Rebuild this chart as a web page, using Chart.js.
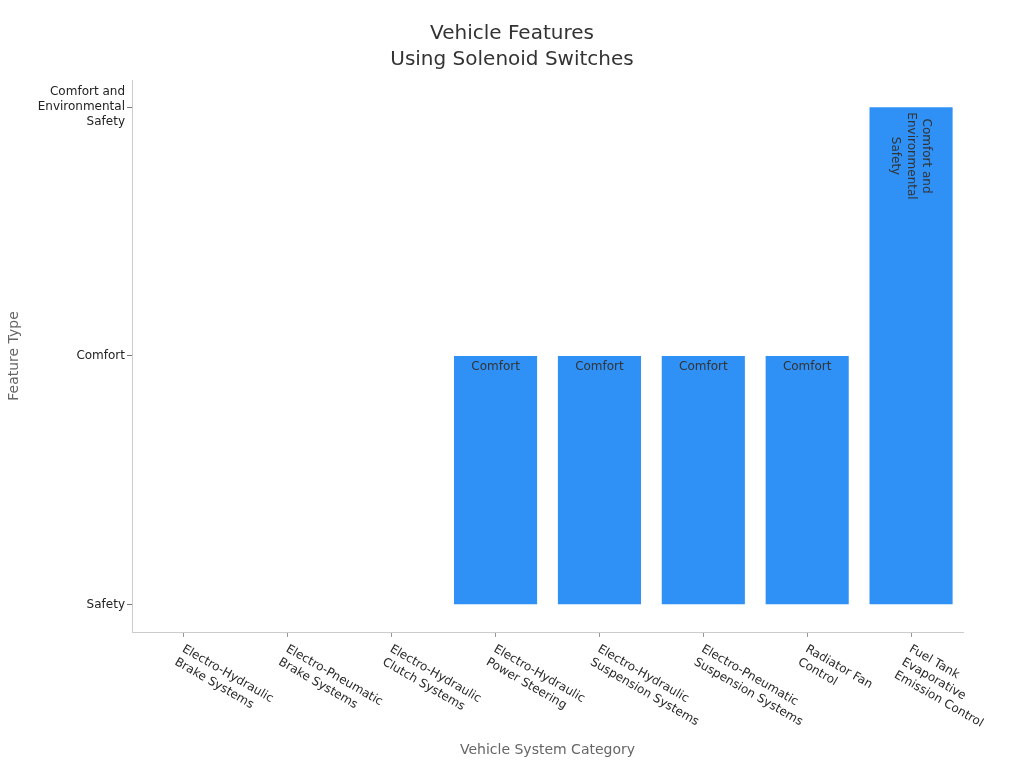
<!DOCTYPE html>
<html>
<head>
<meta charset="utf-8">
<script src="https://cdn.jsdelivr.net/npm/chart.js@4"></script>
<style>
  body { margin: 0; background: #fff; }
  #wrap { width: 1024px; height: 768px; }
</style>
</head>
<body>
<div id="wrap"><canvas id="chart" width="1024" height="768"></canvas></div>
<script>
  // data
  const titleLines = ['Vehicle Features', 'Using Solenoid Switches'];
  const categories = [
    ['Electro-Hydraulic', 'Brake Systems'],
    ['Electro-Pneumatic', 'Brake Systems'],
    ['Electro-Hydraulic', 'Clutch Systems'],
    ['Electro-Hydraulic', 'Power Steering'],
    ['Electro-Hydraulic', 'Suspension Systems'],
    ['Electro-Pneumatic', 'Suspension Systems'],
    ['Radiator Fan', 'Control'],
    ['Fuel Tank', 'Evaporative', 'Emission Control']
  ];
  const featureValues = [0, 0, 0, 1, 1, 1, 1, 2];
  const featureTypes = [
    ['Safety'],
    ['Comfort'],
    ['Comfort and', 'Environmental', 'Safety']
  ];

  Chart.defaults.font.family = "'DejaVu Sans', sans-serif";

  // title, x labels rotated clockwise, bar text - drawn by hand
  const labelPlugin = {
    id: 'labels',
    afterDraw(chart) {
      const ctx = chart.ctx;
      const xs = chart.scales.x;

      ctx.save();
      ctx.font = '20px "DejaVu Sans"';
      ctx.fillStyle = '#333';
      ctx.textAlign = 'center';
      ctx.textBaseline = 'middle';
      titleLines.forEach((t, j) => ctx.fillText(t, chart.width / 2, 34 + j * 26));
      ctx.restore();

      ctx.save();
      ctx.font = '12px "DejaVu Sans"';
      ctx.fillStyle = '#2a2a2a';
      ctx.textAlign = 'left';
      ctx.textBaseline = 'top';
      categories.forEach((lines, i) => {
        const x = xs.getPixelForValue(i);
        ctx.save();
        ctx.translate(x + 2, 643);
        ctx.rotate(Math.PI / 6);
        lines.forEach((t, j) => ctx.fillText(t, 0, j * 15));
        ctx.restore();
      });
      ctx.restore();

      // text inside bars
      const meta = chart.getDatasetMeta(0);
      ctx.save();
      ctx.font = '12px "DejaVu Sans"';
      ctx.fillStyle = '#333';
      meta.data.forEach((bar, i) => {
        const v = featureValues[i];
        if (v === 0) return;
        const lines = featureTypes[v];
        if (lines.length === 1) {
          ctx.textAlign = 'center';
          ctx.textBaseline = 'middle';
          ctx.fillText(lines[0], bar.x, bar.y + 11);
        } else {
          const w = Math.max(...lines.map(t => ctx.measureText(t).width));
          ctx.save();
          ctx.translate(bar.x, bar.y + 5 + w / 2);
          ctx.rotate(Math.PI / 2);
          ctx.textAlign = 'center';
          ctx.textBaseline = 'middle';
          lines.forEach((t, j) => ctx.fillText(t, 0, (j - (lines.length - 1) / 2) * 15.5));
          ctx.restore();
        }
      });
      ctx.restore();
    }
  };

  new Chart(document.getElementById('chart'), {
    type: 'bar',
    data: {
      labels: categories.map(c => c.join(' ')),
      datasets: [{
        data: featureValues,
        backgroundColor: '#2f90f6',
        borderWidth: 0,
        categoryPercentage: 0.8,
        barPercentage: 1
      }]
    },
    options: {
      responsive: false,
      animation: false,
      layout: { padding: { left: 0, right: 61, top: 80, bottom: 0 } },
      plugins: {
        legend: { display: false },
        tooltip: { enabled: false },
        title: { display: false }
      },
      scales: {
        x: {
          grid: { display: true, drawOnChartArea: false, offset: false, tickLength: 5, color: '#999' },
          border: { color: '#ccc' },
          ticks: { display: false },
          title: {
            display: true,
            text: 'Vehicle System Category',
            color: '#666',
            font: { size: 14 },
            padding: { top: 0, bottom: 9 }
          },
          afterFit(scale) { scale.height = 136; }
        },
        y: {
          min: -0.11,
          max: 2.11,
          grid: { display: true, drawOnChartArea: false, tickLength: 5, color: '#777' },
          border: { color: '#ccc' },
          afterBuildTicks(scale) {
            scale.ticks = featureTypes.map((t, i) => ({ value: i }));
          },
          ticks: {
            padding: 2,
            color: '#222',
            font: { size: 12, lineHeight: 1.25 },
            callback: (v) => {
              const t = featureTypes[v];
              return t.length > 1 ? t : t[0];
            }
          },
          title: {
            display: true,
            text: 'Feature Type',
            color: '#666',
            font: { size: 14 },
            padding: { top: 6, bottom: 4 }
          },
          afterFit(scale) { scale.width = 132; }
        }
      }
    },
    plugins: [labelPlugin]
  });
</script>
</body>
</html>
